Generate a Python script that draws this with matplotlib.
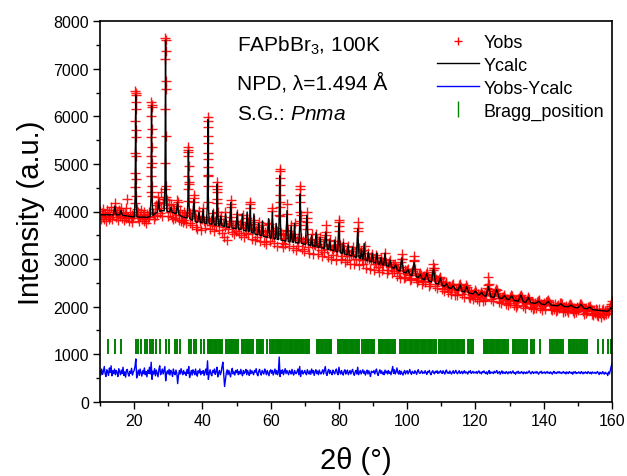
import numpy as np
import matplotlib
matplotlib.use('Agg')
import matplotlib.pyplot as plt
from matplotlib.lines import Line2D
from matplotlib.ticker import MultipleLocator

plt.rcParams['font.family'] = ['Liberation Sans', 'DejaVu Sans']
plt.rcParams['mathtext.fontset'] = 'custom'
plt.rcParams['mathtext.rm'] = 'Liberation Sans'
plt.rcParams['mathtext.it'] = 'Liberation Sans:italic'

# ---- observed pattern, 2theta grid 10..160 deg, step 0.25 (one row = 5 deg)
tt_obs = np.arange(601) * 0.25 + 10.0
y_obs = np.array([
    4018, 3834, 3978, 3890, 4058, 3850, 3954, 3802, 4026, 3906, 3834, 3986, 3882, 4098, 3850, 3946, 4026, 4100, 4030, 3890,
    3965, 3820, 4030, 3910, 3990, 4070, 3870, 3975, 3815, 3945, 3855, 4075, 4260, 3890, 3800, 3985, 3860, 3930, 3780, 3905,
    3940, 4180, 5720, 4060, 3860, 3980, 3795, 3910, 4040, 3845, 3935, 3810, 3990, 3860, 3760, 3950, 3845, 3995, 3890, 3990,
    4930, 4330, 3960, 3840, 4050, 3900, 4140, 3930, 4170, 4190, 3975, 4420, 4080, 3900, 4170, 4260, 4480, 6570, 4250, 4080,
    3915, 4140, 3985, 4150, 3880, 4065, 3840, 4030, 3870, 3990, 4110, 4210, 3920, 3820, 4030, 3810, 3935, 3770, 3990, 3820,
    3920, 3760, 3960, 4230, 4580, 3960, 3760, 3910, 3720, 4030, 4290, 3910, 3680, 3860, 3640, 3900, 4010, 3800, 3620, 3850,
    3890, 4080, 3800, 3660, 3850, 3810, 4760, 4200, 3800, 3640, 3830, 3720, 3970, 3870, 3580, 3790, 3690, 4170, 3990, 3760,
    3620, 3850, 3900, 3540, 3760, 3460, 3680, 3980, 3730, 3400, 3630, 3760, 3790, 4150, 3880, 3560, 3720, 3530, 3710, 3600,
    3800, 3950, 3670, 3540, 3730, 3500, 3780, 3920, 3650, 3460, 3670, 3540, 3860, 3780, 3520, 3720, 4150, 3660, 3420, 3640,
    3830, 3730, 3400, 3610, 3470, 3670, 3780, 3530, 3370, 3590, 3720, 3620, 3360, 3560, 3310, 3510, 3600, 3760, 3740, 3390,
    3580, 3460, 4010, 3620, 3330, 3540, 3660, 3590, 3270, 3520, 3920, 4190, 3540, 3330, 3500, 3250, 3450, 3310, 3610, 3950,
    3600, 3270, 3450, 3500, 3720, 3460, 3240, 3520, 3760, 3450, 3200, 3400, 3270, 3440, 3720, 3930, 3450, 3220, 3370, 3160,
    3360, 3430, 3780, 3640, 3250, 3120, 3350, 3410, 3520, 3310, 3100, 3320, 3290, 3520, 3430, 3110, 3250, 3380, 3460, 3190,
    3070, 3320, 3150, 3270, 3430, 3500, 3220, 3040, 3300, 3400, 3270, 3010, 3210, 3080, 3260, 3370, 3200, 2990, 3200, 3320,
    3770, 3290, 3010, 3200, 3060, 3330, 3170, 2930, 3140, 2990, 3190, 3280, 3070, 2900, 3110, 3160, 3260, 3090, 2890, 3080,
    3000, 3220, 3660, 3230, 2870, 3070, 3160, 2970, 2890, 3180, 3270, 3010, 2820, 3020, 3120, 3010, 2800, 2990, 3050, 3110,
    2980, 2780, 2960, 2890, 3080, 3050, 2830, 2720, 2920, 3030, 2940, 2760, 2880, 3010, 3130, 2920, 2700, 2900, 2780, 2930,
    2990, 2830, 2700, 2880, 2750, 2850, 2890, 2830, 2640, 2820, 2710, 2600, 2830, 2930, 3000, 2770, 2610, 2760, 2630, 2740,
    2770, 2800, 2670, 2550, 2700, 2590, 2740, 2800, 2950, 2790, 2600, 2510, 2660, 2560, 2680, 2700, 2660, 2480, 2620, 2540,
    2650, 2520, 2680, 2720, 2620, 2440, 2580, 2470, 2610, 2670, 2780, 2810, 2650, 2430, 2560, 2400, 2540, 2590, 2620, 2610,
    2530, 2370, 2470, 2330, 2450, 2500, 2520, 2410, 2300, 2440, 2360, 2270, 2400, 2450, 2470, 2390, 2250, 2380, 2240, 2350,
    2400, 2460, 2480, 2410, 2260, 2350, 2210, 2340, 2390, 2450, 2420, 2340, 2200, 2320, 2180, 2300, 2250, 2150, 2290, 2200,
    2340, 2300, 2170, 2270, 2120, 2250, 2290, 2310, 2260, 2120, 2240, 2140, 2260, 2330, 2390, 2450, 2380, 2280, 2150, 2240,
    2120, 2230, 2270, 2330, 2370, 2350, 2290, 2180, 2090, 2190, 2070, 2180, 2210, 2240, 2220, 2180, 2060, 2160, 2040, 2140,
    2080, 2200, 2240, 2220, 2160, 2030, 2120, 2000, 2110, 2030, 2150, 2180, 2230, 2250, 2200, 2140, 2020, 2100, 1980, 2080,
    2140, 2180, 2200, 2170, 2070, 1990, 2070, 1950, 2060, 1980, 2070, 1970, 2090, 2110, 2130, 2100, 1970, 2060, 1930, 2030,
    2070, 1960, 2040, 2100, 2110, 2130, 2100, 2060, 1940, 2030, 1920, 2040, 1960, 2050, 1910, 2010, 1930, 2040, 1980, 2070,
    2080, 2050, 1960, 1890, 2000, 1900, 2020, 1920, 1990, 1880, 2030, 2050, 2040, 1990, 1900, 1970, 1860, 1960, 1890, 1990,
    1920, 2000, 2040, 2060, 2050, 2010, 1910, 1850, 1960, 1860, 1970, 1900, 1990, 2000, 2010, 1940, 1850, 1930, 1830, 1920,
    1860, 1950, 1830, 1920, 1810, 1940, 1870, 1790, 1930, 1850, 1960, 1820, 1910, 1840, 1930, 1870, 1970, 1910, 2010, 2060,
    2120])

# extra observed points on the flanks of the strong reflections
tt_pk = [20.40, 20.45, 20.50, 20.42, 20.48, 20.38, 20.52, 20.36, 20.54, 20.34, 20.56, 20.32, 20.58,
         25.08, 25.12, 25.10, 25.06, 25.14, 25.04, 25.16, 25.02, 25.18, 25.00, 25.20, 24.98,
         29.18, 29.22, 29.20, 29.16, 29.24, 29.14, 29.26, 29.12, 29.28, 29.10, 29.30,
         35.88, 35.92, 35.90, 35.86, 35.94, 35.84, 35.96, 35.82,
         41.58, 41.62, 41.60, 41.56, 41.64, 41.54, 41.66, 41.52, 41.68, 41.50,
         44.33, 44.37, 44.35, 44.31, 44.39,
         62.63, 62.67, 62.65, 62.61, 62.69, 62.59, 62.71,
         68.63, 68.67, 68.65, 68.61, 68.69, 68.59,
         37.48, 37.52, 48.28, 48.32, 53.98, 54.02, 27.13, 27.17, 70.58, 70.62,
         79.98, 80.02, 80.00, 85.48, 85.52, 76.13, 76.17, 98.38, 98.42, 101.98, 102.02,
         107.68, 107.72, 123.78, 123.82, 60.48, 64.78, 32.68, 14.33]
y_pk = [6540, 6490, 6450, 6300, 6150, 5900, 5560, 5240, 5170, 4820, 4680, 4510, 4330,
        6300, 6240, 6190, 6010, 5730, 5560, 5350, 5170, 5030, 4750, 4540, 4400,
        7650, 7600, 7380, 7200, 6750, 6150, 5590, 5030, 4540, 4260, 4300,
        5350, 5290, 5260, 5170, 4960, 4750, 4610, 4470,
        5980, 5910, 5770, 5590, 5450, 5240, 5100, 4930, 4750, 4540,
        4610, 4540, 4470, 4400, 4260,
        4900, 4850, 4700, 4550, 4350, 4100, 3900,
        4540, 4480, 4350, 4200, 4000, 3800,
        4350, 4200, 4250, 4100, 4200, 4080, 4300, 4180, 3980, 3860,
        3820, 3700, 3600, 3780, 3600, 3710, 3560, 3100, 3000, 3070, 2980,
        2900, 2820, 2630, 2480, 4080, 4150, 4250, 4180]

# ---- calculated profile (vertices)
tt_calc = [10.0, 12.0, 13.95, 14.35, 14.75, 15.75, 16.15, 16.55, 18.0, 19.5,
           20.05, 20.3, 20.45, 20.6, 20.85, 22.0, 24.0, 24.7, 24.95, 25.1, 25.25, 25.5,
           26.0, 26.8, 27.15, 27.5, 28.0, 28.8, 29.05, 29.2, 29.35, 29.6, 30.45, 30.8, 31.15,
           32.0, 32.3, 32.7, 33.1, 34.0, 35.5, 35.75, 35.9, 36.05, 36.3, 37.1, 37.5, 37.9,
           38.6, 39.0, 39.4, 39.85, 40.2, 40.55, 41.2, 41.45, 41.6, 41.75, 42.0, 42.75, 43.1, 43.45,
           44.0, 44.2, 44.35, 44.5, 44.75, 45.1, 45.4, 45.7, 46.45, 46.8, 47.15, 47.95, 48.3, 48.65,
           49.85, 50.2, 50.55, 51.35, 51.7, 52.05, 52.8, 53.1, 53.4, 53.7, 54.0, 54.3, 54.8, 55.1, 55.4,
           56.2, 56.5, 56.8, 57.3, 57.6, 57.9, 59.05, 59.4, 59.75, 60.15, 60.5, 60.85, 61.3, 61.6, 61.9,
           62.3, 62.5, 62.65, 62.8, 63.05, 64.45, 64.8, 65.15, 65.7, 66.0, 66.3, 66.7, 67.0, 67.3,
           68.25, 68.5, 68.65, 68.8, 69.05, 70.15, 70.6, 71.05, 71.7, 72.0, 72.3, 73.0, 73.3, 73.6,
           74.2, 74.5, 74.8, 75.7, 76.15, 76.6, 77.0, 77.3, 77.6, 78.5, 78.8, 79.1, 79.6, 80.0, 80.4,
           81.0, 81.3, 81.6, 82.4, 82.7, 83.0, 83.7, 84.0, 84.3, 85.1, 85.5, 85.9, 86.3, 86.6, 86.9,
           87.05, 87.4, 87.75, 88.25, 88.6, 88.95, 89.45, 89.8, 90.15, 90.7, 91.1, 91.5, 91.9, 92.3, 92.7,
           93.1, 93.5, 93.9, 94.55, 95.0, 95.45, 96.1, 96.6, 97.1, 97.85, 98.4, 98.95, 99.6, 100.2, 100.8,
           101.4, 102.0, 102.6, 103.2, 103.8, 104.4, 105.1, 105.7, 106.3, 107.1, 107.7, 108.3, 109.1, 109.7,
           110.3, 110.9, 111.5, 112.1, 112.9, 113.5, 114.1, 114.9, 115.5, 116.1, 116.8, 117.4, 118.0,
           119.3, 120.0, 120.7, 121.1, 121.8, 122.5, 123.1, 123.8, 124.5, 125.45, 126.2, 126.95, 127.75,
           128.5, 129.25, 129.85, 130.6, 131.35, 132.55, 133.3, 134.05, 134.75, 135.5, 136.25, 137.6,
           138.5, 139.4, 140.4, 141.3, 142.2, 144.1, 145.0, 145.9, 147.1, 148.0, 148.9, 150.0, 150.9,
           151.8, 152.6, 153.5, 154.4, 156.0, 157.5, 158.8, 159.5, 160.0]
y_calc = [3930, 3930, 3930, 4110, 3930, 3928, 4020, 3922, 3905, 3888,
          3885, 4300, 6450, 4300, 3885, 3882, 3880, 3895, 4300, 6230, 4300, 3915,
          3950, 3990, 4220, 4000, 4020, 4012, 4600, 7600, 4600, 4005, 3995, 4090, 3985,
          3960, 3955, 4190, 3940, 3890, 3864, 4200, 5280, 4200, 3850, 3815, 4250, 3788,
          3774, 3980, 3766, 3761, 4050, 3756, 3751, 4150, 5930, 4150, 3745, 3732, 4020, 3722,
          3710, 3950, 4580, 3950, 3706, 3704, 3900, 3700, 3687, 3950, 3675, 3661, 4190, 3653,
          3641, 3990, 3632, 3620, 3950, 3608, 3591, 3990, 3584, 3577, 4125, 3563, 3545, 3950, 3526,
          3512, 3750, 3503, 3491, 3800, 3477, 3455, 3850, 3446, 3438, 3990, 3427, 3420, 3750, 3414,
          3408, 3900, 4750, 3900, 3398, 3377, 4020, 3368, 3362, 3700, 3357, 3353, 3750, 3347,
          3337, 3700, 4370, 3700, 3330, 3308, 3920, 3296, 3285, 3500, 3276, 3265, 3560, 3256,
          3247, 3450, 3238, 3223, 3570, 3208, 3202, 3420, 3195, 3175, 3400, 3163, 3150, 3760, 3132,
          3120, 3350, 3108, 3092, 3300, 3080, 3066, 3250, 3054, 3038, 3640, 3022, 3014, 3200, 3000,
          2997, 3330, 2982, 2965, 3150, 2951, 2941, 3120, 2927, 2916, 3125, 2900, 2892, 3030, 2882,
          2875, 3125, 2858, 2848, 2980, 2825, 2803, 2880, 2770, 2745, 3020, 2726, 2710, 2780, 2670,
          2655, 2930, 2632, 2611, 2680, 2584, 2567, 2700, 2540, 2522, 2800, 2492, 2473, 2600,
          2442, 2427, 2480, 2398, 2384, 2440, 2358, 2342, 2460, 2322, 2310, 2420, 2290,
          2267, 2330, 2250, 2244, 2300, 2226, 2219, 2420, 2205, 2195, 2360, 2181, 2172,
          2230, 2156, 2147, 2230, 2130, 2114, 2240, 2099, 2092, 2190, 2080, 2068,
          2110, 2051, 2042, 2110, 2028, 2016, 2060, 2004, 1996, 2030, 1984, 1975, 2040,
          1963, 1952, 1990, 1934, 1922, 1910, 1905, 1950, 2010]

# ---- difference curve Yobs-Ycalc (shifted), same grid as tt_obs
y_diff = np.array([
    650, 560, 687, 575, 635, 740, 590, 530, 672, 620, 552, 710, 612, 755, 545, 650, 590, 687, 567, 657,
    612, 530, 695, 635, 567, 665, 590, 725, 552, 627, 515, 665, 680, 582, 537, 642, 597, 702, 560, 620,
    657, 740, 900, 500, 590, 665, 552, 687, 612, 537, 650, 590, 710, 567, 635, 522, 665, 597, 725, 582,
    830, 470, 642, 582, 695, 545, 665, 597, 522, 680, 755, 567, 620, 687, 582, 657, 740, 440, 605, 650,
    582, 680, 560, 657, 612, 530, 687, 597, 567, 665, 605, 380, 552, 657, 582, 695, 620, 567, 657, 590,
    620, 552, 680, 597, 740, 507, 590, 657, 560, 672, 627, 567, 687, 582, 537, 650, 605, 687, 567, 635,
    597, 657, 552, 627, 687, 567, 860, 470, 597, 672, 582, 545, 657, 612, 687, 575, 635, 725, 522, 612,
    657, 567, 620, 740, 830, 582, 320, 470, 605, 672, 567, 657, 590, 522, 642, 702, 582, 627, 560, 657,
    612, 672, 567, 635, 582, 680, 597, 545, 657, 590, 627, 680, 567, 657, 597, 552, 672, 590, 650, 605,
    567, 657, 620, 695, 582, 545, 642, 680, 597, 560, 657, 620, 582, 687, 635, 567, 657, 597, 545, 642,
    672, 597, 657, 560, 627, 687, 582, 657, 567, 620, 940, 530, 657, 597, 672, 567, 635, 695, 590, 657,
    612, 567, 657, 627, 582, 680, 597, 560, 657, 605, 590, 642, 687, 567, 740, 530, 627, 657, 582, 612,
    657, 597, 567, 672, 620, 582, 650, 575, 687, 605, 657, 552, 627, 672, 590, 642, 567, 665, 605, 582,
    627, 672, 582, 657, 740, 597, 552, 642, 680, 590, 657, 605, 567, 665, 620, 582, 650, 687, 597, 567,
    725, 620, 582, 657, 597, 560, 642, 672, 582, 627, 665, 567, 612, 657, 582, 642, 680, 597, 552, 627,
    657, 582, 725, 567, 612, 657, 582, 627, 672, 597, 642, 560, 620, 665, 582, 650, 597, 530, 642, 620,
    612, 657, 582, 642, 687, 590, 552, 627, 672, 597, 650, 582, 620, 567, 665, 605, 642, 582, 657, 597,
    627, 567, 657, 740, 597, 672, 582, 627, 710, 612, 582, 657, 575, 642, 597, 560, 620, 657, 582, 627,
    652, 584, 626, 678, 606, 574, 639, 613, 594, 652, 620, 574, 639, 672, 606, 594, 626, 652, 594, 620,
    600, 652, 606, 574, 639, 620, 659, 594, 568, 626, 652, 606, 587, 639, 613, 652, 594, 626, 606, 652,
    620, 594, 652, 613, 581, 639, 665, 600, 620, 594, 646, 606, 581, 626, 652, 594, 620, 659, 606, 587,
    626, 652, 594, 613, 639, 587, 620, 652, 600, 626, 606, 581, 639, 620, 652, 594, 613, 639, 600, 620,
    606, 634, 592, 627, 648, 599, 620, 585, 634, 613, 648, 606, 592, 627, 578, 620, 655, 592, 627, 606,
    620, 592, 641, 606, 627, 655, 592, 613, 634, 578, 620, 648, 592, 627, 606, 592, 634, 613, 585, 627,
    606, 634, 592, 620, 648, 599, 613, 578, 627, 606, 641, 592, 620, 599, 634, 613, 585, 627, 606, 592,
    627, 599, 620, 648, 606, 585, 620, 634, 592, 613, 627, 599, 634, 606, 578, 620, 613, 641, 592, 620,
    606, 627, 592, 613, 634, 599, 620, 592, 627, 606, 578, 620, 641, 599, 613, 592, 627, 606, 634, 599,
    620, 592, 613, 634, 599, 620, 585, 627, 606, 592, 634, 613, 599, 620, 578, 627, 606, 634, 592, 613,
    599, 627, 606, 592, 634, 613, 585, 620, 599, 627, 606, 592, 634, 613, 592, 620, 585, 627, 606, 599,
    620, 592, 613, 634, 599, 571, 620, 599, 585, 634, 606, 578, 620, 592, 599, 550, 627, 585, 655, 740,
    800])

# ---- Bragg reflection positions (2theta, deg)
bragg_pos = [12.35, 14.45, 16.25,
             20.45, 21.15, 22.10, 23.10, 23.85, 24.55, 25.10, 25.55, 26.50, 27.50,
             29.20, 29.45, 30.20, 31.90, 32.65, 33.50,
             35.95, 36.75, 37.55, 38.20, 39.65, 40.45,
             41.60, 41.85, 42.25, 42.60, 42.95, 43.30, 43.70, 44.10, 44.35, 44.75, 45.10, 45.45, 45.75,
             47.00, 47.35, 47.70, 48.05, 48.30, 48.70, 49.10, 49.45, 49.85, 50.40,
             51.60, 51.95, 52.30, 52.65, 53.00, 53.35, 53.70, 54.00, 54.40, 54.80,
             56.10, 56.45, 56.80, 57.15, 57.50, 57.85, 59.00, 59.70,
             60.40, 60.75, 61.10, 61.45, 61.80, 62.15, 62.50, 62.75, 63.10, 63.45, 63.80,
             64.60, 64.90, 65.25, 65.60, 65.95, 66.30, 66.65, 67.00, 67.35, 67.70, 68.05,
             68.45, 68.70, 69.00, 69.30, 69.60, 69.90, 70.25, 70.60, 70.95, 71.30,
             73.60, 73.95, 74.30, 74.65, 75.00, 75.60, 76.30, 76.65, 77.00, 77.35, 77.75,
             79.70, 80.00, 80.35, 80.70, 81.05, 81.40, 81.75, 82.10, 82.45, 82.80, 83.15, 83.50,
             83.85, 84.20, 84.55, 84.90, 85.25, 85.60, 85.95,
             86.85, 87.20, 87.55, 87.90, 88.25, 88.60, 88.95, 89.30, 89.65, 90.00, 90.35,
             91.60, 91.95, 92.30, 92.65, 93.00, 93.35, 93.70, 94.05, 94.40, 94.75, 95.10, 95.45,
             95.80, 96.15, 96.45,
             97.95, 98.30, 98.65, 99.00, 99.35, 99.70, 100.05, 100.40, 100.75, 101.10, 101.45,
             101.80, 102.15, 102.50, 102.85, 103.20, 103.55, 103.90, 104.25, 104.60, 104.95,
             105.30, 105.65, 106.00, 106.35, 106.70, 107.05, 107.40, 107.75, 108.10, 108.45,
             109.30, 109.65, 110.00, 110.35, 110.70, 111.05, 111.40, 111.75, 112.10, 112.80,
             113.15, 113.50, 113.85, 114.20, 114.55, 114.90, 115.25, 115.60, 115.95, 116.30, 116.65,
             117.90, 118.25, 118.60, 118.95, 119.30,
             122.40, 122.75, 123.10, 123.45, 123.80, 124.15, 124.50, 124.85, 125.20, 125.55,
             125.90, 126.25, 126.60, 126.95, 127.30, 127.65, 128.00, 128.35, 128.70, 129.05, 129.40,
             130.90, 131.30, 131.70, 132.30, 132.80, 133.30, 133.80, 134.20, 134.70, 135.20,
             136.20, 136.60, 137.20, 138.90,
             141.80, 142.30, 142.80, 143.30, 143.80, 144.30, 144.70, 145.20, 145.70,
             147.30, 147.70, 148.10, 148.50, 148.90, 149.40, 149.80, 150.30, 150.80, 151.20,
             151.70, 152.20, 152.70, 156.00, 157.50, 158.90, 159.60]

fig = plt.figure(figsize=(6.27, 4.77), dpi=100)
ax = fig.add_axes([100/627, 74.3/477, 512/627, 380.4/477])

ax.plot(tt_obs, y_obs, ls='none', marker='+', ms=7.5, mew=1.0, color='red', alpha=0.9)
ax.plot(tt_pk, y_pk, ls='none', marker='+', ms=7.5, mew=1.0, color='red', alpha=0.9)
ax.plot(tt_calc, y_calc, color='black', lw=1.0)
ax.plot(tt_obs, y_diff, color='blue', lw=1.0)
ax.vlines(bragg_pos, 1010, 1325, color='green', lw=1.4)

ax.set_xlim(10, 160)
ax.set_ylim(0, 8000)
ax.xaxis.set_major_locator(MultipleLocator(20))
ax.xaxis.set_minor_locator(MultipleLocator(10))
ax.yaxis.set_major_locator(MultipleLocator(1000))
ax.yaxis.set_minor_locator(MultipleLocator(500))
ax.tick_params(which='both', direction='out', width=1.0, labelsize=11.5, pad=3)
ax.tick_params(which='major', length=5)
ax.tick_params(which='minor', length=3)
for sp in ax.spines.values():
    sp.set_linewidth(1.2)

ax.set_xlabel('2θ (°)', fontsize=21, labelpad=13)
ax.set_ylabel('Intensity (a.u.)', fontsize=21, labelpad=6)

fig.text(237/627, 1 - 46/477, 'FAPbBr$_3$, 100K', fontsize=15, va='center')
fig.text(237/627, 1 - 83/477, 'NPD, λ=1.494 Å', fontsize=15, va='center')
fig.text(237/627, 1 - 115/477, 'S.G.: $Pnma$', fontsize=15, va='center')

handles = [Line2D([], [], ls='none', marker='+', ms=6, mew=1.0, color='red'),
           Line2D([], [], color='black', lw=1.0),
           Line2D([], [], color='blue', lw=1.0),
           Line2D([], [], ls='none', marker='|', ms=11, mew=1.0, color='green')]
labels = ['Yobs', 'Ycalc', 'Yobs-Ycalc', 'Bragg_position']
ax.legend(handles, labels, loc='upper left', bbox_to_anchor=(428/627, 1 - 26/477),
          bbox_transform=fig.transFigure, frameon=False, fontsize=13,
          handlelength=2.3, handletextpad=0.3, labelspacing=0.32, borderpad=0)

fig.savefig('out.png', dpi=100)
